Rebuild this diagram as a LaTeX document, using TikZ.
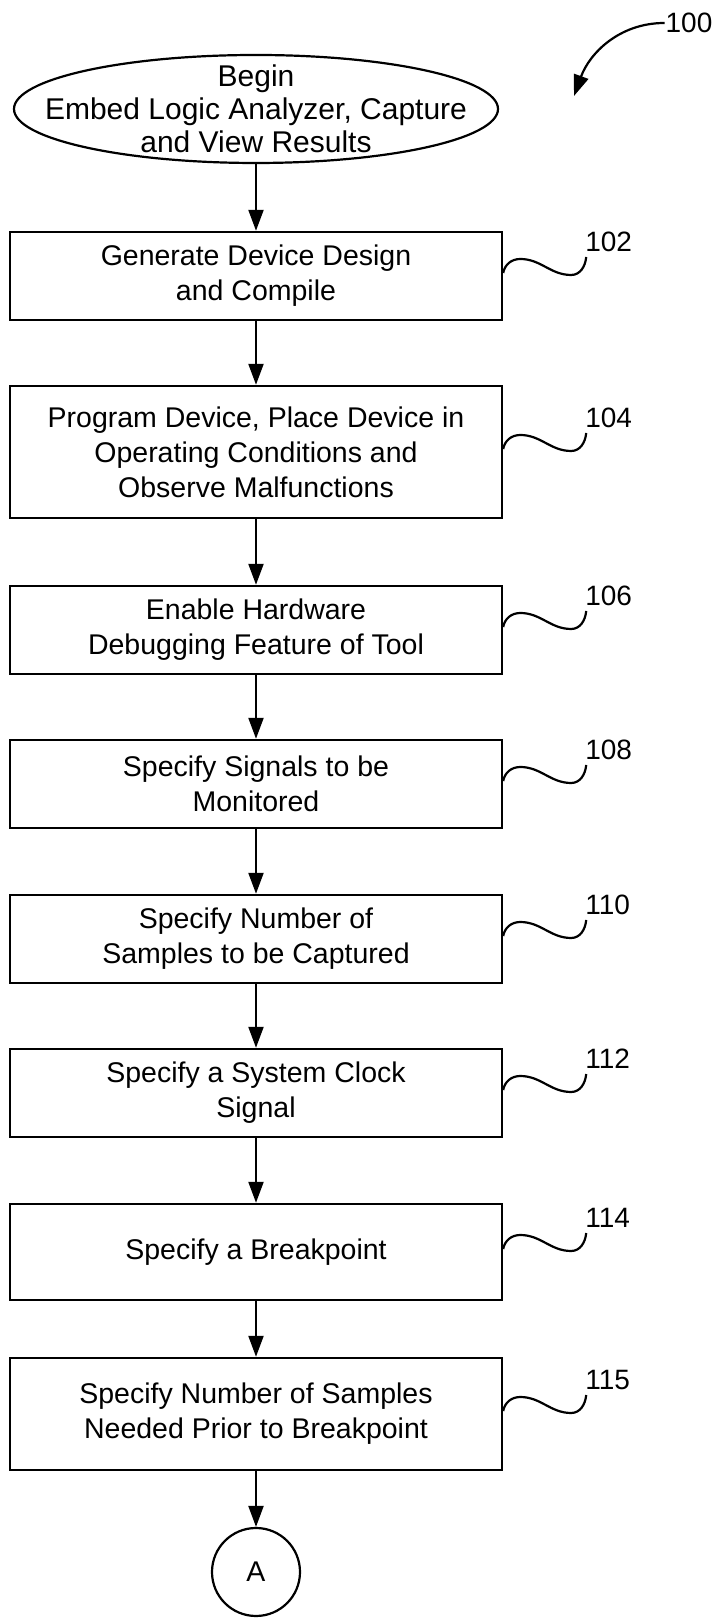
\documentclass[tikz,border=0pt]{standalone}
\usepackage{fontspec}
\setmainfont{Liberation Sans}
\usetikzlibrary{shapes.geometric,arrows.meta}

\begin{document}
\begin{tikzpicture}[x=1pt, y=1pt, line width=2.2pt, >={Triangle[length=21pt,width=15pt]},
    main/.style = {draw, line width=2.4pt, minimum width=492pt, align=center, font=\fontsize{28.5}{35}\selectfont},
    term/.style = {draw, ellipse, minimum width=484pt, minimum height=108pt, inner xsep=-80pt, inner ysep=-40pt, align=center, font=\fontsize{30}{33}\selectfont},
    conn/.style = {draw, circle, minimum size=88pt, inner sep=0pt, font=\fontsize{28.5}{30}\selectfont},
    lbl/.style = {anchor=south west, inner sep=0pt, xshift=-2pt, yshift=4pt, font=\fontsize{28}{30}\selectfont}]
    \useasboundingbox (0,0) rectangle (716,1618);
        \node[term] (begin) at (256,1509) {Begin\\Embed Logic Analyzer, Capture\\and View Results};
        \node[main, minimum height=88pt] (102) at (256,1342) {Generate Device Design\\and Compile};
        \node[main, minimum height=132pt] (104) at (256,1166) {Program Device, Place Device in\\Operating Conditions and\\Observe Malfunctions};
        \node[main, minimum height=88pt] (106) at (256,988) {Enable Hardware\\Debugging Feature of Tool};
        \node[main, minimum height=88pt] (108) at (256,834) {Specify Signals to be\\Monitored};
        \node[main, minimum height=88pt] (110) at (256,679) {Specify Number of\\Samples to be Captured};
        \node[main, minimum height=88pt] (112) at (256,525) {Specify a System Clock\\Signal};
        \node[main, minimum height=96pt] (114) at (256,366) {Specify a Breakpoint};
        \node[main, minimum height=112pt] (115) at (256,204) {Specify Number of Samples\\Needed Prior to Breakpoint};
        \node[conn] (A) at (256,46) {A};
        \draw[->] (begin) -- (102);
        \draw[->] (102) -- (104);
        \draw[->] (104) -- (106);
        \draw[->] (106) -- (108);
        \draw[->] (108) -- (110);
        \draw[->] (110) -- (112);
        \draw[->] (112) -- (114);
        \draw[->] (114) -- (115);
        \draw[->] (115) -- (A);
        \foreach \n in {102,104,106,108,110,112,114,115}
            \draw (\n.east) ++(0,3) to[out=80,in=180] ++(17,14) to[out=0,in=180] ++(51,-16)
                to[out=0,in=-95] ++(15,18) node[lbl] (l\n) {\n};
        \node[font=\fontsize{28}{30}\selectfont, inner sep=0pt] (100) at (689,1595) {100};
        \coordinate (fig) at (574,1522);
        \draw[->] (100.west) to[out=180,in=70] (fig);
    \end{tikzpicture}
\end{document}
